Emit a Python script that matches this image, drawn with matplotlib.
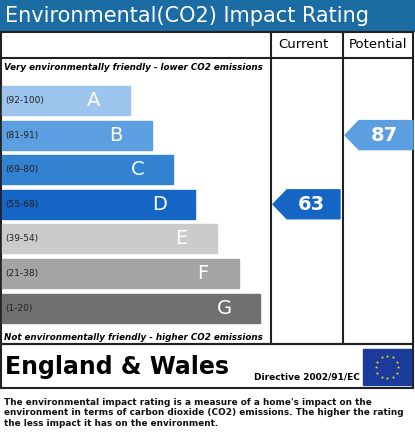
import numpy as np
import matplotlib
matplotlib.use('Agg')
import matplotlib.pyplot as plt
from matplotlib.patches import Rectangle, Polygon

bands = ['A', 'B', 'C', 'D', 'E', 'F', 'G']
ranges = ['(92-100)', '(81-91)', '(69-80)', '(55-68)', '(39-54)', '(21-38)', '(1-20)']
band_colors = ['#9cc4ec', '#5c9fe0', '#3382d2', '#1566c4', '#cbcbcb', '#a4a4a4', '#707070']
current = 63
potential = 87
thresholds = [92, 81, 69, 55, 39, 21, 1]

W, H = 415, 437
fig = plt.figure(figsize=(W / 100, H / 100), dpi=100)
ax = fig.add_axes([0, 0, 1, 1])
ax.set_xlim(0, W)
ax.set_ylim(H, 0)
ax.axis('off')

blue = '#1a6ca3'
ax.add_patch(Rectangle((0, 0), W, 31, color=blue))
ax.text(5, 16, 'Environmental(CO2) Impact Rating', color='white', fontsize=15,
        va='center', ha='left')

lw = 1.5
# main table
ax.add_patch(Rectangle((1, 32), 412, 312, fill=False, lw=lw, ec='#222222'))
ax.plot([1, 413], [58, 58], color='#222222', lw=lw)
ax.plot([271, 271], [32, 344], color='#222222', lw=lw)
ax.plot([343, 343], [32, 344], color='#222222', lw=lw)
ax.text(303, 45, 'Current', ha='center', va='center', fontsize=9.5)
ax.text(378, 45, 'Potential', ha='center', va='center', fontsize=9.5)
ax.text(4, 67, 'Very environmentally friendly - lower CO2 emissions', fontsize=6.3,
        style='italic', weight='bold', va='center')
ax.text(4, 337, 'Not environmentally friendly - higher CO2 emissions', fontsize=6.3,
        style='italic', weight='bold', va='center')

top0, step, bh = 86, 34.6, 29
for i, (b, r, c) in enumerate(zip(bands, ranges, band_colors)):
    y = top0 + i * step
    right = 130 + i * 21.7
    ax.add_patch(Rectangle((2, y), right - 2, bh, color=c))
    ax.text(5, y + bh / 2, r, fontsize=6.5, va='center', color='#222222')
    ax.text(right - 36, y + bh / 2, b, fontsize=14, va='center', ha='center',
            color='white')


def band_index(v):
    for i, t in enumerate(thresholds):
        if v >= t:
            return i
    return len(thresholds) - 1


def arrow(x0, x1, v):
    i = band_index(v)
    y = top0 + i * step
    pts = [(x0, y + bh / 2), (x0 + 14, y), (x1, y), (x1, y + bh), (x0 + 14, y + bh)]
    ax.add_patch(Polygon(pts, closed=True, color=band_colors[i]))
    ax.text((x0 + 14 + x1) / 2 - 2, y + bh / 2, str(v), color='white', fontsize=14,
            weight='bold', ha='center', va='center')


arrow(273, 340, current)
arrow(345, 413, potential)

# England & Wales box
ax.add_patch(Rectangle((1, 344), 412, 44, fill=False, lw=lw, ec='#222222'))
ax.text(5, 367, 'England & Wales', fontsize=17, weight='bold', va='center')
ax.text(254, 377, 'Directive 2002/91/EC', fontsize=6.5, weight='bold', va='center')
ax.add_patch(Rectangle((363, 349), 48, 36, color='#1a3a9c'))
ang = np.linspace(0, 2 * np.pi, 12, endpoint=False)
ax.scatter(387 + 11 * np.cos(ang), 367 + 11 * np.sin(ang), marker='*', s=6,
           color='#ffdd00', lw=0)

ax.text(4, 398, "The environmental impact rating is a measure of a home's impact on the\n"
        "environment in terms of carbon dioxide (CO2) emissions. The higher the rating\n"
        "the less impact it has on the environment.", fontsize=6.4, weight='bold',
        va='top', linespacing=1.2, color='#111111')

fig.savefig('out.png', dpi=100)
